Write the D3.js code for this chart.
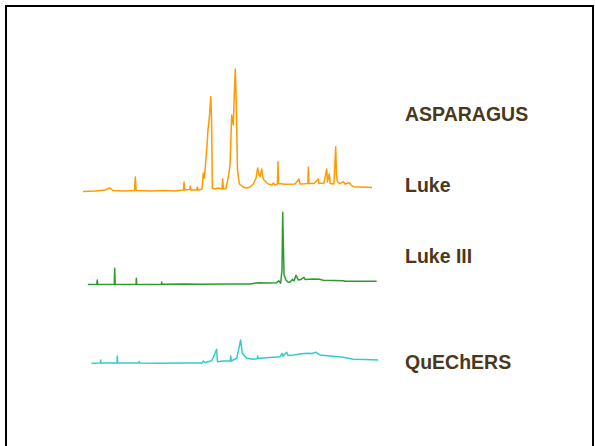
<!DOCTYPE html>
<html>
<head>
<meta charset="utf-8">
<script src="https://cdn.jsdelivr.net/npm/d3@7"></script>
<style>
  body { margin: 0; background: #fff; }
  svg { display: block; }
</style>
</head>
<body>
<div id="container"></div>
<script>
(function() {

// retention time (min), relative intensity (% of tallest peak)
let asparagusLuke = [
  [0.00, 0.0], [1.24, 0.4], [2.28, 1.2], [2.79, 2.9], [3.10, 0.8], [4.34, 0.4],
  [5.33, 0.8], [5.41, 11.8], [5.50, 0.8], [6.93, 0.4], [8.48, 0.8], [9.52, 0.4],
  [10.40, 1.2], [10.45, 7.8], [10.52, 1.2], [11.07, 1.6], [11.10, 4.5], [11.17, 1.2],
  [11.79, 1.2], [11.82, 3.7], [11.90, 1.2], [12.31, 2.0], [12.44, 15.1], [12.55, 11.0],
  [12.67, 21.6], [12.83, 38.0], [12.93, 50.2], [13.09, 62.4], [13.22, 77.4], [13.30, 58.8],
  [13.38, 2.9], [13.65, 2.0], [13.96, 2.9], [14.38, 2.0], [14.45, 10.2], [14.52, 2.0],
  [14.79, 2.4], [15.03, 11.8], [15.21, 21.6], [15.38, 62.4], [15.55, 54.3], [15.65, 78.8],
  [15.75, 100], [15.85, 74.7], [15.90, 52.9], [15.98, 17.6], [16.17, 6.1], [16.55, 3.7],
  [16.93, 2.9], [17.28, 3.7], [17.62, 6.1], [17.90, 11.0], [18.07, 19.2], [18.21, 13.5],
  [18.31, 12.1], [18.49, 18.4], [18.62, 11.0], [18.72, 9.4], [19.17, 6.1], [19.55, 5.3],
  [19.69, 6.9], [19.86, 5.3], [20.11, 6.1], [20.17, 24.3], [20.23, 6.5], [20.90, 5.9],
  [21.93, 6.1], [22.35, 10.2], [22.45, 6.1], [22.97, 6.3], [23.26, 6.5], [23.31, 19.8],
  [23.36, 6.5], [23.90, 6.5], [24.34, 10.2], [24.41, 6.5], [24.93, 6.9], [25.21, 18.4],
  [25.29, 7.8], [25.48, 14.3], [25.57, 6.5], [25.96, 6.1], [26.14, 36.6], [26.22, 13.5],
  [26.33, 7.8], [26.59, 6.5], [26.93, 8.0], [27.10, 6.1], [27.55, 7.2], [27.72, 5.3],
  [27.96, 3.9], [28.65, 3.7], [29.90, 3.3]
];

let asparagusLuke3 = [
  [0.00, 0.0], [0.91, 0.2], [0.96, 3.7], [1.01, 0.2], [2.28, 0.0], [2.72, 0.2],
  [2.76, 13.2], [2.81, 0.2], [4.34, 0.0], [4.97, 0.2], [5.00, 5.1], [5.04, 0.2],
  [6.41, 0.0], [7.60, 0.2], [7.62, 2.0], [7.65, 0.2], [10.03, 0.4], [11.59, 0.2],
  [14.69, 0.4], [16.76, 0.4], [17.62, 1.5], [18.83, 1.2], [19.52, 1.5], [19.73, 3.1],
  [19.93, 1.0], [20.07, 11.8], [20.14, 58.9], [20.20, 36.3], [20.28, 7.8], [20.48, 3.7],
  [20.72, 1.8], [20.90, 2.0], [21.18, 4.2], [21.31, 2.9], [21.52, 7.5], [21.76, 3.7],
  [22.03, 4.1], [22.34, 5.9], [22.45, 4.1], [23.31, 4.5], [24.00, 4.2], [24.34, 3.4],
  [26.41, 3.1], [26.59, 2.6], [29.86, 2.6]
];

let asparagusQuechers = [
  [0.00, 0.0], [0.91, 0.2], [0.95, 2.7], [0.99, 0.2], [2.64, 0.2], [2.67, 6.0],
  [2.71, 0.2], [4.91, 0.2], [4.94, 1.5], [4.98, 0.2], [7.09, 0.0], [9.15, 0.2],
  [11.43, 0.2], [11.57, 1.9], [11.74, 0.7], [12.43, 2.1], [12.70, 6.8], [12.95, 11.4],
  [13.03, 1.3], [13.60, 1.9], [14.36, 1.9], [14.40, 6.0], [14.46, 1.9], [15.02, 4.1],
  [15.29, 13.6], [15.43, 19.0], [15.60, 8.2], [16.05, 4.1], [16.74, 3.3], [17.17, 3.9],
  [17.19, 6.0], [17.22, 3.9], [18.12, 4.6], [19.50, 5.4], [19.74, 8.2], [19.81, 5.7],
  [20.19, 9.0], [20.33, 6.4], [20.88, 6.8], [21.57, 7.6], [22.26, 8.2], [22.81, 8.0],
  [23.22, 9.0], [23.64, 6.8], [24.67, 6.0], [26.05, 4.9], [27.08, 3.3], [28.29, 3.1],
  [29.67, 2.7]
];

let traces = [asparagusLuke, asparagusLuke3, asparagusQuechers];
let traceColors = ["#ff9a00", "#2f9a2f", "#33cccc"];
let labels = ["ASPARAGUS", "Luke", "Luke III", "QuEChERS"];

let width = 595;
let height = 446;

// where each trace sits on the slide
let traceLeft = [83, 88, 91.5];
let traceBase = [191.5, 284.5, 363.3];
let labelBase = [120.5, 191.5, 262.5, 368.5];

let svg = d3.select("#container")
  .append("svg")
    .attr("width", width)
    .attr("height", height);

svg.append("rect")
  .attr("width", width)
  .attr("height", height)
  .attr("fill", "#fff");

// slide frame, bottom edge runs off the picture
svg.append("rect")
  .attr("x", 6)
  .attr("y", 6)
  .attr("width", 587)
  .attr("height", 470)
  .attr("fill", "none")
  .attr("stroke", "#000")
  .attr("stroke-width", 2);

let x = d3.scaleLinear()
  .domain([0, 30])
  .range([0, 290]);
let y = d3.scaleLinear()
  .domain([0, 100])
  .range([0, -122.5]);

let line = d3.line()
  .x((d) => x(d[0]))
  .y((d) => y(d[1]));

svg.append("g")
  .selectAll(".trace")
  .data(traces)
  .enter()
  .append("path")
    .attr("class", "trace")
    .attr("transform", (d, i) => "translate(" + traceLeft[i] + "," + traceBase[i] + ")")
    .attr("d", line)
    .attr("fill", "none")
    .attr("stroke", (d, i) => traceColors[i])
    .attr("stroke-width", 1.5)
    .attr("stroke-linejoin", "round");

svg.append("g")
  .selectAll("text")
  .data(labels)
  .enter()
  .append("text")
    .attr("x", 405)
    .attr("y", (d, i) => labelBase[i])
    .attr("font-family", "Liberation Sans, Arial, sans-serif")
    .attr("font-weight", "bold")
    .attr("font-size", 19.5)
    .attr("fill", "#4a381a")
    .text((d) => d);

})();
</script>
</body>
</html>
